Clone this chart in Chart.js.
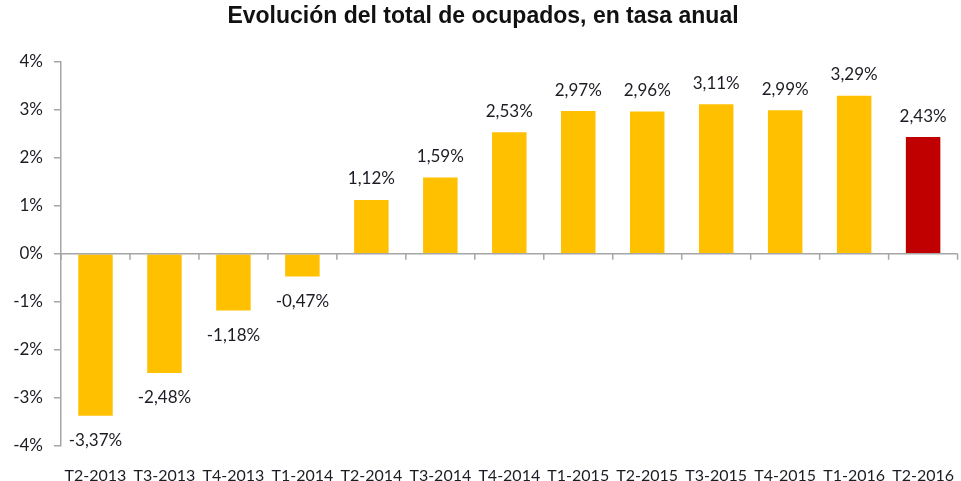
<!DOCTYPE html>
<html>
<head>
<meta charset="utf-8">
<script src="https://cdn.jsdelivr.net/npm/chart.js@4.4.1/dist/chart.umd.min.js"></script>
<style>
  html, body { margin: 0; padding: 0; background: #fff; overflow: hidden; }
  #wrap { width: 966px; height: 481px; position: relative; }
</style>
</head>
<body>
<div id="wrap"><canvas id="chart"></canvas></div>
<script>
const quarters = ['T2-2013', 'T3-2013', 'T4-2013', 'T1-2014', 'T2-2014', 'T3-2014', 'T4-2014',
                  'T1-2015', 'T2-2015', 'T3-2015', 'T4-2015', 'T1-2016', 'T2-2016'];
const rates = [-3.37, -2.48, -1.18, -0.47, 1.12, 1.59, 2.53, 2.97, 2.96, 3.11, 2.99, 3.29, 2.43];
const yTicks = [-4, -3, -2, -1, 0, 1, 2, 3, 4];

const YELLOW = '#FFC000';
const RED = '#C00000';
const AXIS = '#a6a6a6';
const TEXT = '#1c1c24';

const fmt = v => v.toFixed(2).replace('.', ',') + '%';

// value labels above / below each bar
const barLabels = {
    id: 'barLabels',
    afterDatasetsDraw(chart) {
        const ctx = chart.ctx;
        const meta = chart.getDatasetMeta(0);
        ctx.save();
        ctx.font = '17px Lato';
        ctx.fillStyle = TEXT;
        ctx.textAlign = 'center';
        ctx.textBaseline = 'middle';
        meta.data.forEach((bar, i) => {
            const v = rates[i];
            const y = v >= 0 ? bar.y - 21 : bar.y + 25;
            ctx.fillText(fmt(v), bar.x, y);
        });
        ctx.restore();
    }
};

// zero line with category tick marks
const zeroAxis = {
    id: 'zeroAxis',
    afterDatasetsDraw(chart) {
        const ctx = chart.ctx;
        const x = chart.scales.x, y = chart.scales.y;
        const y0 = y.getPixelForValue(0);
        const step = x.getPixelForValue(1) - x.getPixelForValue(0);
        ctx.save();
        ctx.strokeStyle = AXIS;
        ctx.lineWidth = 1.5;
        ctx.beginPath();
        ctx.moveTo(chart.chartArea.left, y0);
        ctx.lineTo(chart.chartArea.right, y0);
        for (let i = 0; i <= quarters.length; i++) {
            const px = x.getPixelForValue(0) - step / 2 + i * step;
            ctx.moveTo(px, y0);
            ctx.lineTo(px, y0 + 6);
        }
        ctx.stroke();
        ctx.restore();
    }
};

new Chart(document.getElementById('chart'), {
    type: 'bar',
    data: {
        labels: quarters,
        datasets: [{
            data: rates,
            backgroundColor: c => c.dataIndex === quarters.length - 1 ? RED : YELLOW,
            borderWidth: 0,
            barPercentage: 0.5,
            categoryPercentage: 1
        }]
    },
    options: {
        responsive: true,
        maintainAspectRatio: false,
        animation: false,
        layout: { padding: 0 },
        plugins: {
            legend: { display: false },
            tooltip: { enabled: false },
            title: {
                display: true,
                text: 'Evolución del total de ocupados, en tasa anual',
                color: '#111',
                font: { family: 'Liberation Sans', size: 23, weight: 'bold' },
                padding: { top: 3, bottom: 31 }
            }
        },
        scales: {
            x: {
                grid: { display: false },
                border: { display: false },
                ticks: {
                    color: TEXT,
                    font: { family: 'Lato', size: 16 },
                    padding: 12,
                    maxRotation: 0,
                    autoSkip: false
                },
                afterFit: s => { s.height = 35; }
            },
            y: {
                min: -4,
                max: 4,
                afterBuildTicks: s => { s.ticks = yTicks.map(v => ({ value: v })); },
                grid: {
                    drawOnChartArea: false,
                    drawTicks: true,
                    tickLength: 7,
                    color: AXIS,
                    lineWidth: 1.5
                },
                border: { display: true, color: AXIS, width: 1.5 },
                ticks: {
                    color: TEXT,
                    font: { family: 'Lato', size: 17 },
                    padding: 11,
                    callback: v => v + '%'
                },
                afterFit: s => { s.width = 61; }
            }
        }
    },
    plugins: [barLabels, zeroAxis]
});
</script>
</body>
</html>
